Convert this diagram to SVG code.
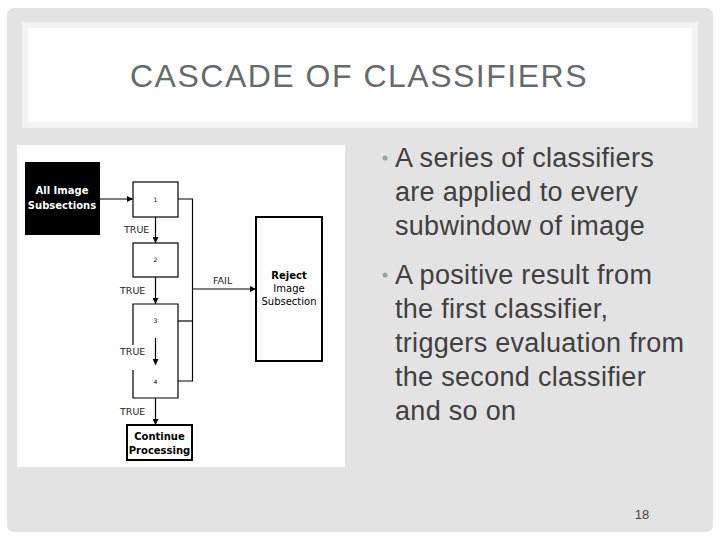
<svg xmlns="http://www.w3.org/2000/svg" width="720" height="540" viewBox="0 0 720 540">
<style>
.ln{stroke:#000;stroke-width:1.2;fill:none}
.box{stroke:#000;stroke-width:1.2;fill:#fff}
.num{font-family:"DejaVu Sans",sans-serif;font-size:6px;fill:#000;text-anchor:middle}
.lbl{font-family:"DejaVu Sans",sans-serif;font-size:9.5px;fill:#222}
.bold{font-family:"DejaVu Sans",sans-serif;font-size:10px;font-weight:bold;text-anchor:middle}
.body{font-family:"Liberation Sans",Arial,sans-serif;font-size:27px;fill:#404040;letter-spacing:0.3px}
</style>
<defs>
<marker id="ah" markerWidth="6" markerHeight="6" refX="6" refY="3" orient="auto" markerUnits="userSpaceOnUse">
<path d="M0,0 L6,3 L0,6 z" fill="#000"/>
</marker>
</defs>
<rect x="0" y="0" width="720" height="540" fill="#fff"/>
<rect x="7" y="8" width="706" height="524" rx="7" fill="#e3e3e3"/>
<g id="title">
<rect x="22" y="22" width="676" height="106" fill="#f3f3f3"/>
<rect x="28" y="28" width="664" height="94" fill="#fff"/>
<text x="359" y="87" text-anchor="middle" font-family="Liberation Sans,Arial,sans-serif" font-size="32" fill="#646c69" letter-spacing="1.5">CASCADE OF CLASSIFIERS</text>
</g>
<rect x="17" y="145" width="328" height="322" fill="#fff"/>
<g id="connectors">
<line class="ln" x1="100" y1="199" x2="133" y2="199" marker-end="url(#ah)"/>
<line class="ln" x1="155.5" y1="217" x2="155.5" y2="243" marker-end="url(#ah)"/>
<line class="ln" x1="155.5" y1="277" x2="155.5" y2="304" marker-end="url(#ah)"/>
<line class="ln" x1="155.5" y1="338" x2="155.5" y2="365" marker-end="url(#ah)"/>
<line class="ln" x1="155.5" y1="398" x2="155.5" y2="425" marker-end="url(#ah)"/>
<polyline class="ln" points="178,199 192.5,199 192.5,381 178,381"/>
<line class="ln" x1="178" y1="321" x2="192.5" y2="321"/>
<line class="ln" x1="192.5" y1="289" x2="256" y2="289" marker-end="url(#ah)"/>
<text class="lbl" x="124" y="233">TRUE</text>
<text class="lbl" x="120" y="294">TRUE</text>
<text class="lbl" x="120" y="355">TRUE</text>
<text class="lbl" x="120" y="415">TRUE</text>
<text class="lbl" x="213" y="284">FAIL</text>
</g>
<g id="all-image">
<rect x="25" y="162" width="75" height="73" fill="#000"/>
<text class="bold" x="62" y="194" fill="#fff">All Image</text>
<text class="bold" x="62" y="209" fill="#fff">Subsections</text>
</g>
<g id="c1">
<rect class="box" x="133" y="182" width="45" height="35"/>
<text class="num" x="155.5" y="202">1</text>
</g>
<g id="c2">
<rect class="box" x="133" y="243" width="45" height="34"/>
<text class="num" x="155.5" y="262">2</text>
</g>
<g id="c3">
<path class="ln" d="M133,345 V304 H178 V365"/>
<text class="num" x="155.5" y="323">3</text>
</g>
<g id="c4">
<path class="ln" d="M133,370 V398 H178 V365"/>
<text class="num" x="155.5" y="384">4</text>
</g>
<g id="continue">
<rect x="127" y="425" width="65" height="35" fill="#fff" stroke="#000" stroke-width="2"/>
<text class="bold" x="159.5" y="440" fill="#000">Continue</text>
<text class="bold" x="159.5" y="454" fill="#000">Processing</text>
</g>
<g id="reject">
<rect x="256" y="217" width="66" height="144" fill="#fff" stroke="#000" stroke-width="2"/>
<text class="bold" x="289" y="279" fill="#000">Reject</text>
<text x="289" y="292" text-anchor="middle" font-family="DejaVu Sans,sans-serif" font-size="10" fill="#000">Image</text>
<text x="289" y="305" text-anchor="middle" font-family="DejaVu Sans,sans-serif" font-size="10" fill="#000">Subsection</text>
</g>
<g id="bullets">
<circle cx="385" cy="158" r="2.5" fill="#9aa5a0"/>
<text class="body" x="395" y="167">A series of classifiers</text>
<text class="body" x="395" y="201">are applied to every</text>
<text class="body" x="395" y="235">subwindow of image</text>
<circle cx="385" cy="275" r="2.5" fill="#9aa5a0"/>
<text class="body" x="395" y="284">A positive result from</text>
<text class="body" x="395" y="318">the first classifier,</text>
<text class="body" x="395" y="352">triggers evaluation from</text>
<text class="body" x="395" y="386">the second classifier</text>
<text class="body" x="395" y="420">and so on</text>
</g>
<text x="642" y="519" text-anchor="middle" font-family="Liberation Sans,Arial,sans-serif" font-size="13" fill="#444">18</text>
</svg>
